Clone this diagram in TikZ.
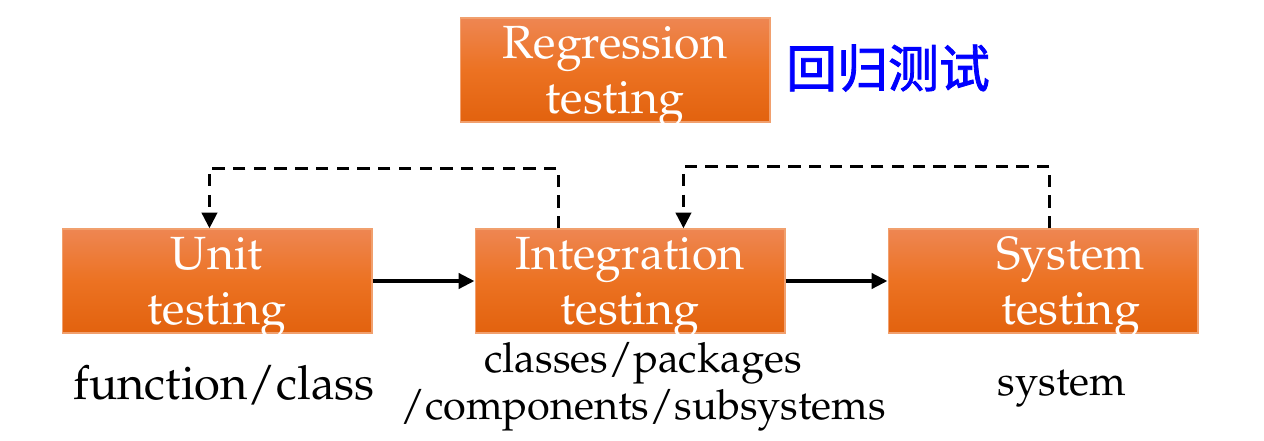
\documentclass[tikz,border=0pt]{standalone}
\usepackage[T1]{fontenc}
\usepackage{fontspec}
\newfontfamily\cjk{Noto Sans CJK SC}[FakeBold=1.6]
\newfontfamily\serifalt{Liberation Serif}
\IfFileExists{t1ppl.fd}
  {\newcommand\palfont{\fontencoding{T1}\fontfamily{ppl}\selectfont}}
  {\newcommand\palfont{\serifalt}}
\usetikzlibrary{arrows.meta}

\definecolor{boxtop}{RGB}{238,134,82}
\definecolor{boxmid}{RGB}{236,114,34}
\definecolor{boxbot}{RGB}{226,98,14}
\definecolor{boxline}{RGB}{241,160,110}

\tikzset{
  testbox/.style={rectangle, draw=boxline, line width=0.6pt,
    top color=boxtop, bottom color=boxbot, middle color=boxmid,
    minimum width=6.2cm, minimum height=2.08cm, text=white,
    align=center, text depth=0pt,
    font=\palfont\fontsize{26.5}{31.3}\selectfont},
  levellabel/.style={align=center, text=black,
    font=\palfont\fontsize{23.6}{27}\selectfont},
  flow/.style={line width=2.2pt, -{Triangle[length=9pt,width=8.5pt]}},
  back/.style={line width=2.2pt, dash pattern=on 7pt off 4.8pt,
    -{Triangle[length=9pt,width=8.5pt]}}
}

\begin{document}
\begin{tikzpicture}[x=0.02cm, y=-0.02cm]

  \useasboundingbox (0,0) rectangle (1264,440);

  % ------------------------------------------------------------
  % Positions
  % ------------------------------------------------------------

  \def\ybox{281}
  \def\xunit{217}
  \def\xinteg{630}
  \def\xsys{1043}

  % ------------------------------------------------------------
  % Boxes
  % ------------------------------------------------------------

  \node[testbox] (regr) at (615,70)
  {Regression\\testing};

  \node[text=blue, font=\cjk\fontsize{29}{32}\selectfont] (regrzh) at (888,68)
  {回归测试};

  \node[testbox] (unit) at (\xunit,\ybox)
  {Unit\\testing};

  \node[testbox] (integ) at (\xinteg,\ybox)
  {Integration\\testing};

  \node[testbox] (sys) at (\xsys,\ybox)
  {\hspace*{1.1cm}System\\\hspace*{1.1cm}testing};

  % ------------------------------------------------------------
  % Labels below
  % ------------------------------------------------------------

  \node[levellabel, font=\palfont\fontsize{26.8}{30}\selectfont] (unitlab) at (224,385)
  {function/class};

  \node[levellabel] (integlab) at (643,387)
  {classes/packages\\/components/subsystems};

  \node[levellabel] (syslab) at (1062,389)
  {system};

  % ------------------------------------------------------------
  % Connectors
  % ------------------------------------------------------------

  \draw[flow] (unit.east) -- (integ.west);
  \draw[flow] (integ.east) -- (sys.west);

  \draw[back] ([xshift=1.68cm]integ.north west) -- ++(0,-60) -| ([xshift=2.96cm]unit.north west);
  \draw[back] ([xshift=3.24cm]sys.north west) -- ++(0,-62) -| ([xshift=4.18cm]integ.north west);

\end{tikzpicture}
\end{document}
